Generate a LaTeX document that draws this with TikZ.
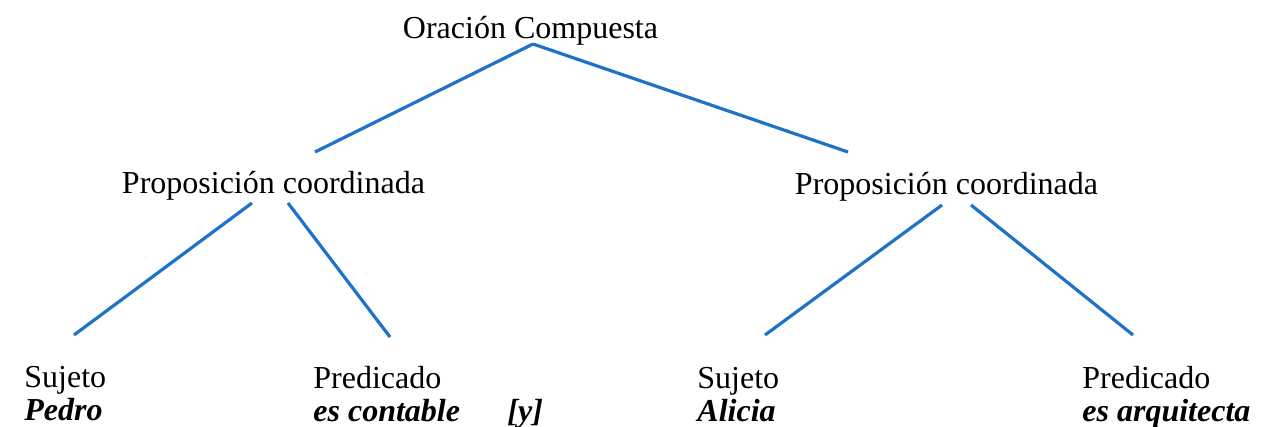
\documentclass[tikz,border=0pt]{standalone}
\usepackage{fontspec}
\setmainfont{Liberation Serif}
\definecolor{treeblue}{RGB}{30,115,200}
\tikzstyle{phrase} = [inner sep = 0, font = \fontsize{16}{16.5}\selectfont, anchor = base]
\tikzstyle{leaf} = [phrase, anchor = north west, align = left]
\tikzstyle{branch} = [line width = 1.6pt, draw = treeblue]
\begin{document}
\begin{tikzpicture}[x = 0.5pt, y = -0.5pt]
    \useasboundingbox (0,0) rectangle (1278,427);

    \node(root)[phrase] at (530.5,39) {Oración Compuesta};
    \node(lprop)[phrase] at (273.5,194) {Proposición coordinada};
    \node(rprop)[phrase] at (946.5,195) {Proposición coordinada};

    \node(lsuj)[leaf] at (24,366) {Sujeto\\\textbf{\textit{Pedro}}};
    \node(lpred)[leaf] at (313,366) {Predicado\\\textbf{\textit{es contable}}};
    \node(conj)[phrase, anchor = base west] at (507,421) {\textbf{\textit{[y]}}};
    \node(rsuj)[leaf] at (697,367) {Sujeto\\\textbf{\textit{Alicia}}};
    \node(rpred)[leaf] at (1082,366) {Predicado\\\textbf{\textit{es arquitecta}}};

    \draw[branch]([xshift = 1.25pt, yshift = -2.5pt]root.base) -- ([xshift = 20.75pt, yshift = 21pt]lprop.base);
    \draw[branch]([xshift = 1.25pt, yshift = -2.5pt]root.base) -- ([xshift = -49.25pt, yshift = 21.5pt]rprop.base);

    \draw[branch]([xshift = -10.75pt, yshift = -4.5pt]lprop.base) -- ([xshift = 25pt, yshift = 15.5pt]lsuj.north west);
    \draw[branch]([xshift = 7.25pt, yshift = -4.5pt]lprop.base) -- ([xshift = 38.5pt, yshift = 14.5pt]lpred.north west);
    \draw[branch]([xshift = -2.25pt, yshift = -5pt]rprop.base) -- ([xshift = 34pt, yshift = 16pt]rsuj.north west);
    \draw[branch]([xshift = 12.25pt, yshift = -5pt]rprop.base) -- ([xshift = 25.5pt, yshift = 15.5pt]rpred.north west);

\end{tikzpicture}
\end{document}
